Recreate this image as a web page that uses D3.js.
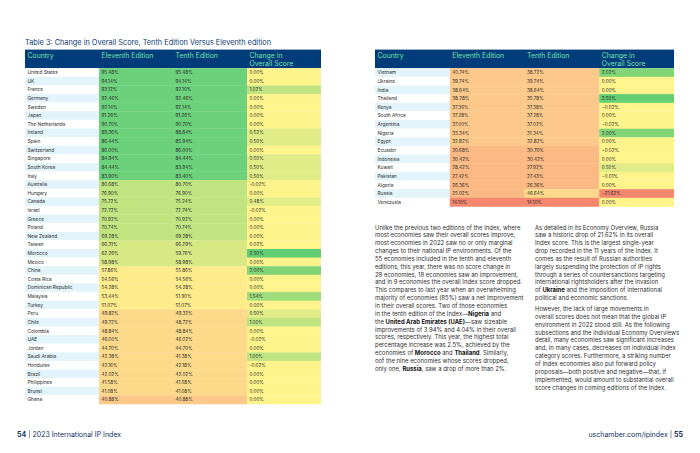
<!DOCTYPE html>
<html><head><meta charset="utf-8">
<script src="https://cdn.jsdelivr.net/npm/d3@7"></script>
<style>html,body{margin:0;padding:0;background:#fff;}svg{display:block;font-family:Inter,"Noto Sans",sans-serif;}</style>
</head><body><div id="chart"></div>
<script>
// ---------- DATA ----------
const leftCountries = ["United States","UK","France","Germany","Sweden","Japan","The Netherlands","Ireland","Spain","Switzerland","Singapore","South Korea","Italy","Australia","Hungary","Canada","Israel","Greece","Poland","New Zealand","Taiwan","Morocco","Mexico","China","Costa Rica","Dominican Republic","Malaysia","Turkey","Peru","Chile","Colombia","UAE","Jordan","Saudi Arabia","Honduras","Brazil","Philippines","Brunei","Ghana"];
const leftEleventh = [95.48,94.14,93.12,92.46,92.14,91.26,90.70,89.36,86.44,86.00,84.94,84.44,83.90,80.68,76.90,75.72,72.72,70.92,70.74,69.28,66.31,62.26,58.98,57.86,54.56,54.28,53.44,51.07,49.82,49.72,48.84,46.00,44.70,42.38,42.16,42.02,41.58,41.08,40.88];
const leftTenth    = [95.48,94.14,92.10,92.46,92.14,91.26,90.70,88.84,85.94,86.00,84.44,83.94,83.40,80.70,76.90,75.24,72.74,70.92,70.74,69.28,66.29,59.76,58.98,55.86,54.56,54.28,51.90,51.07,49.32,48.72,48.84,46.02,44.70,41.38,42.18,42.02,41.58,41.08,40.88];
const leftChange   = [0.00,0.00,1.02,0.00,0.00,0.00,0.00,0.52,0.50,0.00,0.50,0.50,0.50,-0.02,0.00,0.48,-0.02,0.00,0.00,0.00,0.02,2.50,0.00,2.00,0.00,0.00,1.54,0.00,0.50,1.00,0.00,-0.02,0.00,1.00,-0.02,0.00,0.00,0.00,0.00];

const rightCountries = ["Vietnam","Ukraine","India","Thailand","Kenya","South Africa","Argentina","Nigeria","Egypt","Ecuador","Indonesia","Kuwait","Pakistan","Algeria","Russia","Venezuela"];
const rightEleventh = [40.74,39.74,38.64,38.28,37.36,37.28,37.00,33.34,32.82,30.68,30.42,28.42,27.42,26.36,25.02,14.10];
const rightTenth    = [38.72,39.74,38.64,35.78,37.38,37.28,37.02,31.34,32.82,30.70,30.42,27.92,27.43,26.36,46.64,14.10];
const rightChange   = [2.02,0.00,0.00,2.50,-0.02,0.00,-0.02,2.00,0.00,-0.02,0.00,0.50,-0.01,0.00,-21.62,0.00];

const headers = ["Country","Eleventh Edition","Tenth Edition","Change in|Overall Score"];
const title = "Table 3: Change in Overall Score, Tenth Edition Versus Eleventh edition";

const leftText = [
 "Unlike the previous two editions of the Index, where",
 "most economies saw their overall scores improve,",
 "most economies in 2022 saw no or only marginal",
 "changes to their national IP environments. Of the",
 "55 economies included in the tenth and eleventh",
 "editions, this year, there was no score change in",
 "28 economies, 18 economies saw an improvement,",
 "and in 9 economies the overall Index score dropped.",
 "This compares to last year when an overwhelming",
 "majority of economies (85%) saw a net improvement",
 "in their overall scores. Two of those economies",
 "in the tenth edition of the Index—**Nigeria** and",
 "the **United Arab Emirates (UAE)**—saw sizeable",
 "improvements of 3.94% and 4.04% in their overall",
 "scores, respectively. This year, the highest total",
 "percentage increase was 2.5%, achieved by the",
 "economies of **Morocco** and **Thailand**. Similarly,",
 "oof the nine economies whose scores dropped,",
 "only one, **Russia**, saw a drop of more than 2%."
];
const rightText1 = [
 "As detailed in its Economy Overview, Russia",
 "saw a historic drop of 21.62% in its overall",
 "Index score. This is the largest single-year",
 "drop recorded in the 11 years of the Index. It",
 "comes as the result of Russian authorities",
 "largely suspending the protection of IP rights",
 "through a series of countersanctions targeting",
 "international rightsholders after the invasion",
 "of **Ukraine** and the imposition of international",
 "political and economic sanctions."
];
const rightText2 = [
 "However, the lack of large movements in",
 "overall scores does not mean that the global IP",
 "environment in 2022 stood still. As the following",
 "subsections and the individual Economy Overviews",
 "detail, many economies saw significant increases",
 "and, in many cases, decreases on individual Index",
 "category scores. Furthermore, a striking number",
 "of Index economies also put forward policy",
 "proposals—both positive and negative—that, if",
 "implemented, would amount to substantial overall",
 "score changes in coming editions of the Index."
];

// ---------- DRAW ----------
const W = 700, H = 453;
const svg = d3.select("#chart").append("svg").attr("width", W).attr("height", H);
svg.append("rect").attr("width", W).attr("height", H).attr("fill", "#fff");

const navy = "#003b7a", headText = "#74e2ad", ink = "#2a2a2a", stripe = "#e3f4fb";
const editionColor = d3.scaleThreshold()
  .domain([20, 31, 41, 50.5, 58.5, 68, 82])
  .range(["#f5876f","#fbb984","#fdc98a","#fdd98a","#fdeb8c","#d8e884","#c0e580","#6cd17b"]);
const changeColor = d3.scaleLinear().domain([-21.62, 0, 2.5])
  .range(["#f4876f","#fff48c","#63cd72"]);

svg.append("text").attr("x", 25).attr("y", 44.6).attr("font-size", 7.35)
  .attr("fill", "#0b3b73").text(title);

function drawTable(countries, e11, e10, ch, x0, x1, y0, rowH, stripeParity, minus) {
  const g = svg.append("g");
  const xCol = d3.scaleBand().domain(headers).range([x0, x1]);
  const y = d3.scaleBand().domain(countries).range([y0, y0 + rowH * countries.length]);
  const hTop = 49.6;
  g.append("rect").attr("x", x0).attr("y", hTop).attr("width", x1 - x0).attr("height", y0 - hTop).attr("fill", navy);
  headers.forEach(h => {
    const parts = h.split("|");
    const t = g.append("text").attr("font-size", 6.9).attr("fill", headText);
    parts.forEach((p, i) => t.append("tspan").attr("x", xCol(h) + 2.5).attr("y", 57.6 + i * 7.9).text(p));
  });
  const rows = countries.map((c, i) => ({c, i, e11: e11[i], e10: e10[i], ch: ch[i]}));
  const fmt = d3.format(".2f");
  const pct = v => (v < 0 ? minus : "") + fmt(Math.abs(v)) + "%";
  const rg = g.selectAll("g.row").data(rows).join("g");
  rg.append("rect").attr("x", xCol("Country")).attr("y", d => y(d.c)).attr("width", xCol.bandwidth()).attr("height", y.bandwidth())
    .attr("fill", d => d.i % 2 === stripeParity ? stripe : "#fff");
  rg.append("rect").attr("x", xCol(headers[1])).attr("y", d => y(d.c)).attr("width", xCol.bandwidth() + 0.3).attr("height", y.bandwidth() + 0.3)
    .attr("fill", d => editionColor(d.e11));
  rg.append("rect").attr("x", xCol(headers[2])).attr("y", d => y(d.c)).attr("width", xCol.bandwidth() + 0.3).attr("height", y.bandwidth() + 0.3)
    .attr("fill", d => editionColor(d.e10));
  rg.append("rect").attr("x", xCol(headers[3])).attr("y", d => y(d.c)).attr("width", xCol.bandwidth()).attr("height", y.bandwidth() + 0.3)
    .attr("fill", d => changeColor(d.ch));
  const ty = d => y(d.c) + y.bandwidth() / 2 + 1.7;
  rg.append("text").attr("x", xCol("Country") + 2.5).attr("y", ty).attr("font-size", 4.8).attr("fill", ink).text(d => d.c);
  rg.append("text").attr("x", xCol(headers[1]) + 2.5).attr("y", ty).attr("font-size", 4.6).attr("fill", ink).text(d => pct(d.e11));
  rg.append("text").attr("x", xCol(headers[2]) + 2.5).attr("y", ty).attr("font-size", 4.6).attr("fill", ink).text(d => pct(d.e10));
  rg.append("text").attr("x", xCol(headers[3]) + 2.5).attr("y", ty).attr("font-size", 4.6).attr("fill", ink).text(d => pct(d.ch));
}
drawTable(leftCountries, leftEleventh, leftTenth, leftChange, 25, 321, 68.2, 8.61, 1, "-");
drawTable(rightCountries, rightEleventh, rightTenth, rightChange, 375, 674, 68.2, 8.64, 0, "\u2212");

function drawLines(lines, x, y0, lh) {
  const t = svg.append("text").attr("font-size", 5.95).attr("fill", "#2e2e2e");
  lines.forEach((line, i) => {
    const parts = line.split("**");
    parts.forEach((p, j) => {
      if (!p) return;
      const ts = t.append("tspan").text(p).attr("font-weight", j % 2 ? 700 : 400).attr("fill", j % 2 ? "#111" : null);
      if (j === 0 || (j === 1 && !parts[0])) ts.attr("x", x).attr("y", y0 + i * lh);
    });
  });
}
drawLines(leftText, 375, 229.5, 7.85);
drawLines(rightText1, 535, 229.5, 7.85);
drawLines(rightText2, 535, 311, 7.85);

// footer
const fl = svg.append("text").attr("x", 17).attr("y", 436.5).attr("font-size", 7).attr("fill", "#13325f");
fl.append("tspan").attr("font-weight", 700).text("54");
fl.append("tspan").text("  |  2023 International IP Index");
const fr = svg.append("text").attr("x", 683).attr("y", 436.5).attr("font-size", 7).attr("fill", "#13325f").attr("text-anchor", "end");
fr.append("tspan").text("uschamber.com/ipindex  |  ");
fr.append("tspan").attr("font-weight", 700).text("55");
</script></body></html>
